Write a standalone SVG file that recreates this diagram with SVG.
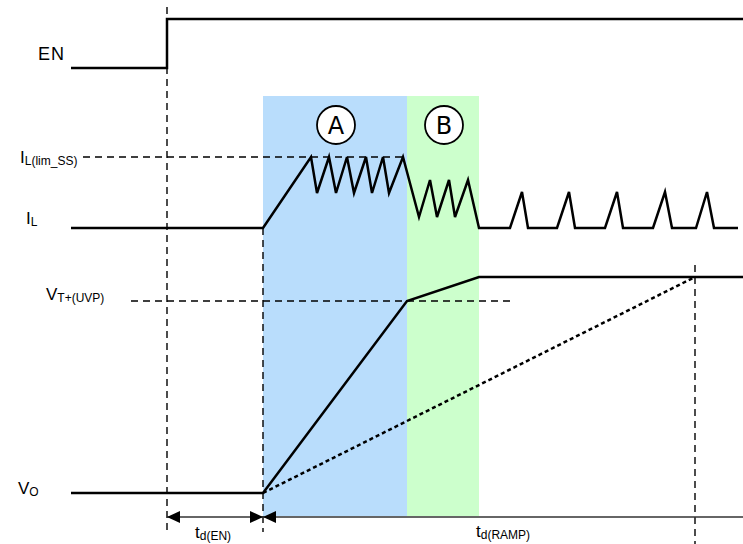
<svg xmlns="http://www.w3.org/2000/svg" width="743" height="544" viewBox="0 0 743 544">
<style>
.sig{fill:none;stroke:#000;stroke-width:2.5;stroke-linejoin:miter}
.dash{fill:none;stroke:#000;stroke-width:1.4;stroke-dasharray:7 5}
.dot{fill:none;stroke:#000;stroke-width:2.5;stroke-dasharray:4 3}
.dim{fill:none;stroke:#333;stroke-width:1.5}
.lbl{font-family:"Liberation Sans",Arial,sans-serif;fill:#000}
.big{font-size:17px}
.sub{font-size:12px}
.circ{fill:#fff;stroke:#000;stroke-width:1.8}
.ctext{font-family:"DejaVu Sans","Liberation Sans",sans-serif;font-size:24px;text-anchor:middle;fill:#000}
</style>
<defs>
<marker id="arr" viewBox="0 0 13 12" refX="13" refY="6" markerWidth="13" markerHeight="12" markerUnits="userSpaceOnUse" orient="auto-start-reverse">
<path d="M0,0 L13,6 L0,12 Z" fill="#000"/>
</marker>
</defs>
<g id="regions">
<rect id="regionA" x="263" y="96" width="144" height="420" fill="#b9ddfc"/>
<rect id="regionB" x="407" y="96" width="72" height="420" fill="#ccffcc"/>
</g>
<g id="connectors">
<line class="dash" x1="167" y1="7" x2="167" y2="532"/>
<line class="dash" x1="263" y1="228" x2="263" y2="532"/>
<line class="dash" x1="695" y1="265" x2="695" y2="544"/>
<line class="dash" x1="83" y1="157" x2="407" y2="157"/>
<line class="dash" x1="131" y1="301" x2="512" y2="301"/>
<line class="dim" x1="167" y1="517" x2="263" y2="517" marker-start="url(#arr)" marker-end="url(#arr)"/>
<line class="dim" x1="263" y1="517" x2="743" y2="517" marker-start="url(#arr)"/>
</g>
<g id="EN">
<text class="lbl" x="38" y="60" font-size="18" letter-spacing="1">EN</text>
<polyline class="sig" points="71,68 167,68 167,19 743,19"/>
</g>
<g id="IL">
<text class="lbl big" x="20" y="163">I<tspan class="sub" font-size="11" dy="2">L(lim_SS)</tspan></text>
<text class="lbl big" x="26" y="224">I<tspan class="sub" dy="2">L</tspan></text>
<polyline class="sig" points="71,228 263,228 311,157 317,193 329,157 336,193 347,157 354,193 366,157 372,193 383,157 389,193 403,157 419,217 430,180 437,217 449,180 455,217 468,180 479,228 510,228 522,192 528,228 557,228 569,192 575,228 605,228 617,192 623,228 653,228 665,192 672,228 696,228 707,192 714,228 738,228"/>
</g>
<g id="VO">
<text class="lbl big" x="46" y="300">V<tspan class="sub" dy="2">T+(UVP)</tspan></text>
<text class="lbl big" x="18" y="494">V<tspan class="sub" dy="2">O</tspan></text>
<polyline class="sig" points="71,493 263,493 407,301 479,277 743,277"/>
<line class="dot" x1="263" y1="493" x2="695" y2="277"/>
</g>
<g id="markerA">
<circle class="circ" cx="336" cy="125" r="19"/>
<text class="ctext" x="336" y="134">A</text>
</g>
<g id="markerB">
<circle class="circ" cx="444" cy="125" r="19"/>
<text class="ctext" x="444" y="134">B</text>
</g>
<g id="timing">
<text class="lbl big" x="195" y="538">t<tspan class="sub" dy="2">d(EN)</tspan></text>
<text class="lbl big" x="476" y="537">t<tspan class="sub" dy="2">d(RAMP)</tspan></text>
</g>
</svg>
